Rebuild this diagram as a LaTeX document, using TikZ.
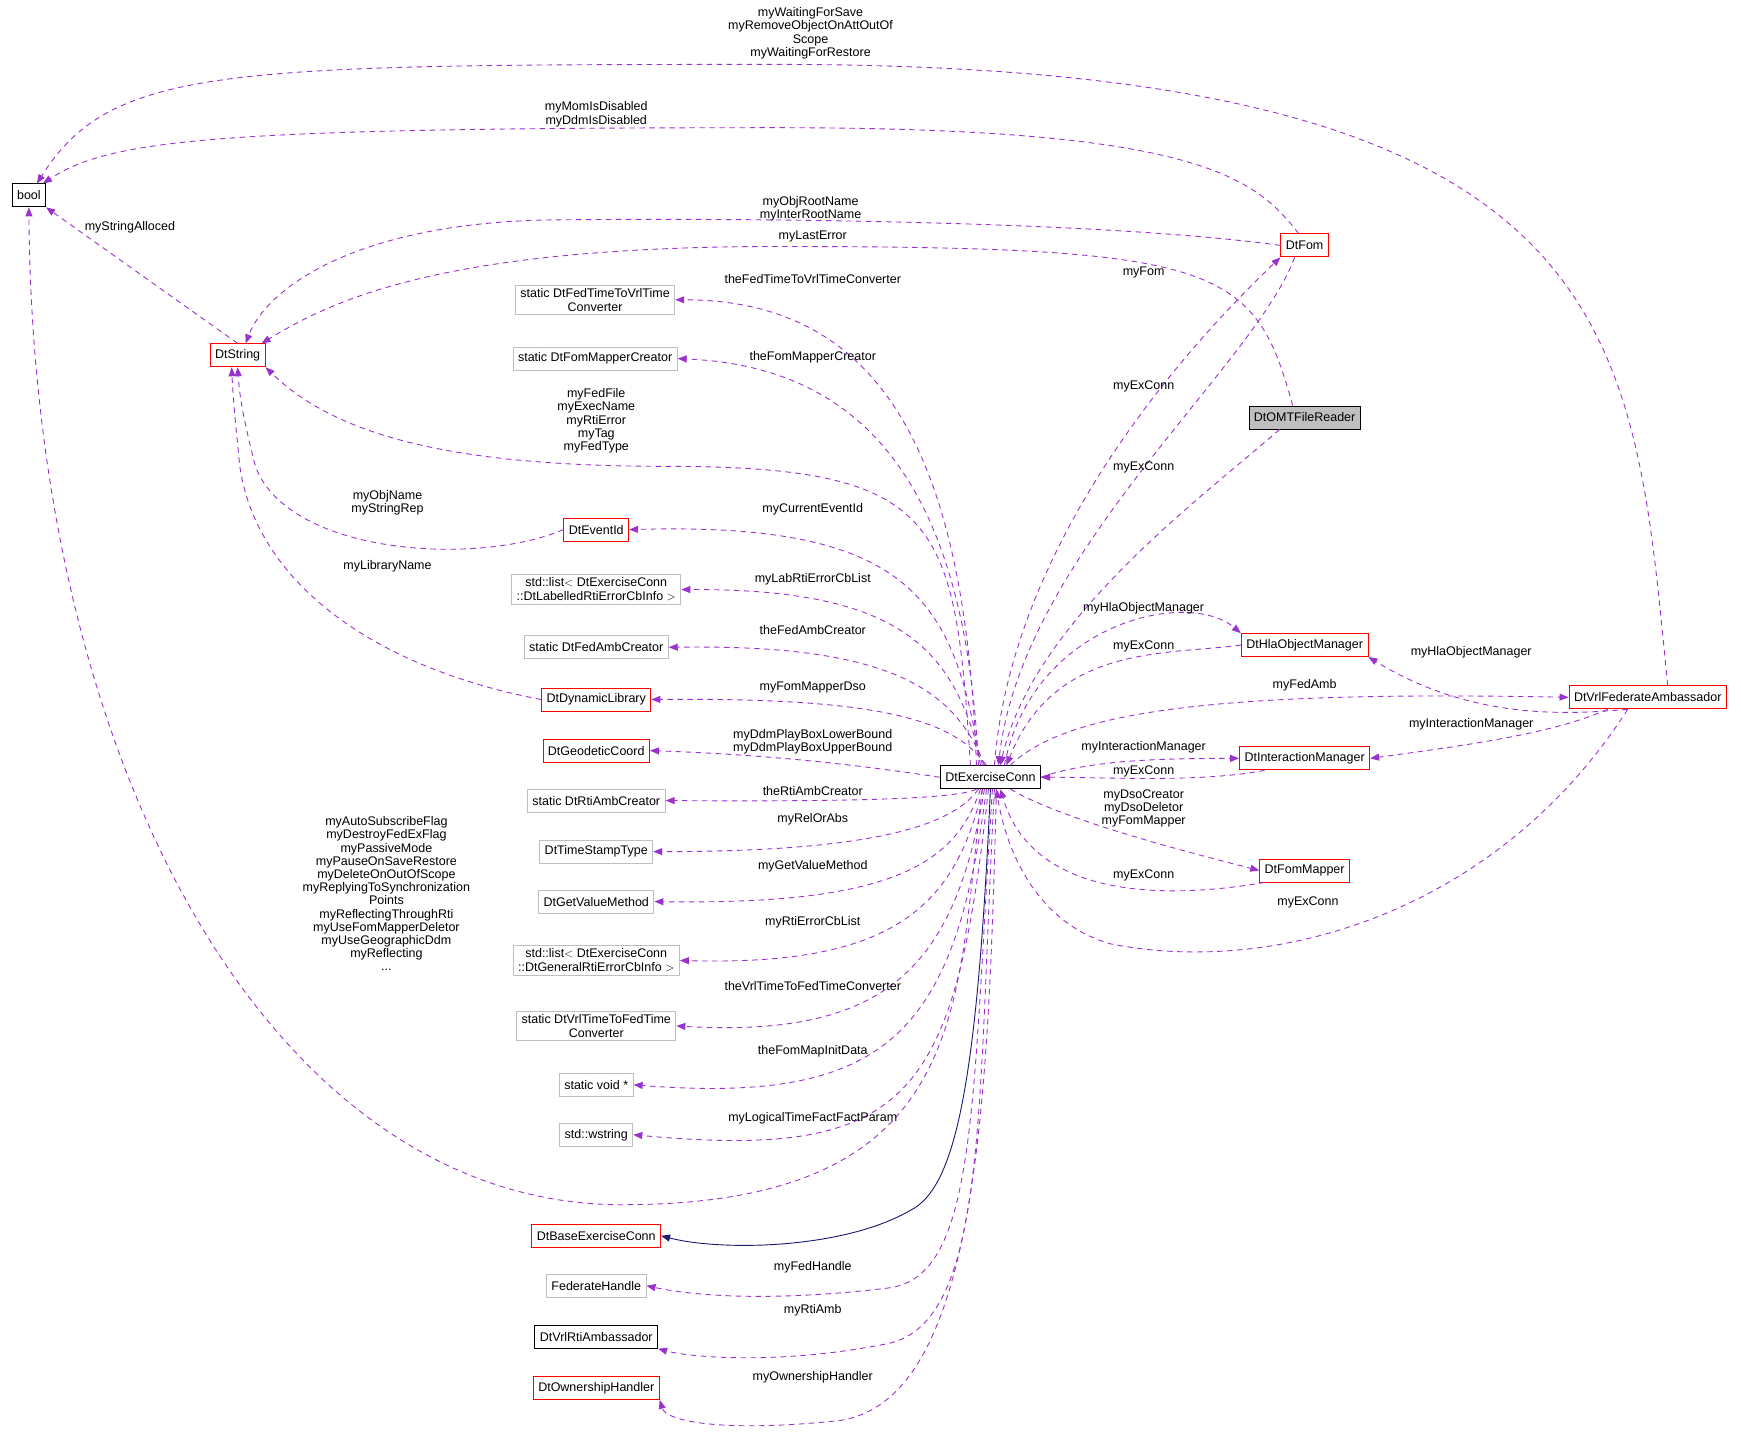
\documentclass[tikz,border=0pt]{standalone}
\usepackage{fontspec}
\setmainfont{Liberation Sans}
\usetikzlibrary{arrows.meta}
\definecolor{pur}{HTML}{9A32CD}
\definecolor{gr}{HTML}{BFBFBF}
\definecolor{rd}{HTML}{FF0000}
\definecolor{mb}{HTML}{191970}
\begin{document}
\begin{tikzpicture}[x=1.1105pt,y=-1.1105pt,
  every node/.style={font=\fontsize{12.5}{14}\selectfont},
  box/.style={draw,rectangle,inner xsep=5pt,inner ysep=3pt,minimum height=23pt,align=center,line width=0.9pt},
  bk/.style={box,draw=black},
  rb/.style={box,draw=rd},
  gb/.style={box,draw=gr},
  lb/.style={align=center,inner sep=0pt,font=\fontsize{12.5}{13.2}\selectfont},
  e/.style={draw=pur,line width=0.9pt,dash pattern=on 5.5pt off 4.5pt,-{Triangle[length=9pt,width=7pt,fill=pur]}},
  inh/.style={draw=mb,line width=0.9pt,-{Triangle[length=9pt,width=7pt,fill=mb]}}]
\useasboundingbox (0,0) rectangle (1568,1290);
% nodes
\node[bk] (bool) at (26,176) {bool};
\node[rb] (str) at (214,320) {DtString};
\node[gb] (ftv) at (536,270) {static DtFedTimeToVrlTime\\Converter};
\node[gb] (fmc) at (536,323) {static DtFomMapperCreator};
\node[rb] (eid) at (537,477) {DtEventId};
\node[gb] (lab) at (537,531) {std::list$<$ DtExerciseConn\\ ::DtLabelledRtiErrorCbInfo $>$};
\node[gb] (fac) at (537,583) {static DtFedAmbCreator};
\node[rb] (dyn) at (537,630) {DtDynamicLibrary};
\node[rb] (geo) at (537,676) {DtGeodeticCoord};
\node[gb] (rac) at (537,721) {static DtRtiAmbCreator};
\node[gb] (tst) at (537,767) {DtTimeStampType};
\node[gb] (gvm) at (537,812) {DtGetValueMethod};
\node[gb] (gen) at (537,865) {std::list$<$ DtExerciseConn\\ ::DtGeneralRtiErrorCbInfo $>$};
\node[gb] (vtf) at (537,924) {static DtVrlTimeToFedTime\\Converter};
\node[gb] (vd) at (537,977) {static void *};
\node[gb] (ws) at (537,1022) {std::wstring};
\node[rb] (bec) at (537,1113) {DtBaseExerciseConn};
\node[gb] (fh) at (537,1158) {FederateHandle};
\node[bk] (vra) at (537,1204) {DtVrlRtiAmbassador};
\node[rb] (own) at (537,1250) {DtOwnershipHandler};
\node[bk] (ec) at (892,700) {DtExerciseConn};
\node[rb] (fom) at (1175,221) {DtFom};
\node[bk,fill=gr] (omt) at (1175,376) {DtOMTFileReader};
\node[rb] (hom) at (1175,581) {DtHlaObjectManager};
\node[rb] (vfa) at (1484,628) {DtVrlFederateAmbassador};
\node[rb] (im) at (1175,683) {DtInteractionManager};
\node[rb] (fm) at (1175,784) {DtFomMapper};
% edges to bool
\draw[e] ([xshift=-8pt]ec.south) .. controls (860,900) and (880,1085) .. (560,1085) .. controls (250,1085) and (30,700) .. (bool.south);
\node[lb] (l1) at (348,805) {myAutoSubscribeFlag\\myDestroyFedExFlag\\myPassiveMode\\myPauseOnSaveRestore\\myDeleteOnOutOfScope\\myReplyingToSynchronization\\Points\\myReflectingThroughRti\\myUseFomMapperDeletor\\myUseGeographicDdm\\myReflecting\\...};
\draw[e] ([xshift=20pt]vfa.north) .. controls (1470,300) and (1470,58) .. (700,58) .. controls (200,58) and (100,60) .. ([xshift=8pt]bool.north);
\node[lb] (l2) at (730,30) {myWaitingForSave\\myRemoveObjectOnAttOutOf\\Scope\\myWaitingForRestore};
\draw[e] ([xshift=-6pt]fom.north) .. controls (1130,160) and (1080,115) .. (700,115) .. controls (200,115) and (100,125) .. ([xshift=14pt]bool.north);
\node[lb] (l3) at (537,103) {myMomIsDisabled\\myDdmIsDisabled};
\draw[e] (str.north) -- (bool.south east);
\node[lb] (l4) at (117,205) {myStringAlloced};
% to DtString
\draw[e] (fom.west) .. controls (1000,200) and (700,196) .. (500,198) .. controls (320,200) and (240,260) .. ([xshift=8pt]str.north);
\node[lb] (l5) at (730,188) {myObjRootName\\myInterRootName};
\draw[e] ([xshift=-12pt]omt.north) .. controls (1130,240) and (1100,222) .. (700,222) .. controls (400,222) and (300,270) .. ([xshift=24pt]str.north);
\node[lb] (l6) at (732,213) {myLastError};
\draw[e] ([xshift=-20pt]ec.north) .. controls (860,470) and (850,420) .. (600,420) .. controls (400,420) and (300,390) .. (str.south east);
\node[lb] (l7) at (537,379) {myFedFile\\myExecName\\myRtiError\\myTag\\myFedType};
\draw[e] (eid.west) .. controls (430,510) and (260,500) .. (230,420) .. controls (220,380) and (216,360) .. (str.south);
\node[lb] (l8) at (349,453) {myObjName\\myStringRep};
\draw[e] (dyn.west) .. controls (330,600) and (230,520) .. (216,420) .. controls (212,380) and (210,360) .. ([xshift=-6pt]str.south);
\node[lb] (l9) at (349,510) {myLibraryName};
% Fom/OMT
\draw[e] ([xshift=4pt]ec.north) .. controls (910,500) and (1050,330) .. (fom.south west);
\node[lb] (l10) at (1030,245) {myFom};
\draw[e] ([xshift=-10pt]fom.south) .. controls (1130,330) and (920,500) .. ([xshift=8pt]ec.north);
\node[lb] (l11) at (1030,348) {myExConn};
\draw[e] ([xshift=-25pt]omt.south) .. controls (1080,450) and (930,560) .. ([xshift=10pt]ec.north);
\node[lb] (l12) at (1030,421) {myExConn};
% left targets
\draw[e] ([xshift=-14pt]ec.north) .. controls (870,420) and (800,270) .. (ftv.east);
\node[lb] (a1) at (732,251) {theFedTimeToVrlTimeConverter};
\draw[e] ([xshift=-12pt]ec.north) .. controls (870,440) and (780,330) .. (fmc.east);
\node[lb] (a2) at (732,322) {theFomMapperCreator};
\draw[e] ([xshift=-10pt]ec.north) .. controls (860,540) and (820,470) .. (eid.east);
\node[lb] (a3) at (732,459) {myCurrentEventId};
\draw[e] ([xshift=-8pt]ec.north) .. controls (860,590) and (820,530) .. (lab.east);
\node[lb] (a4) at (732,522) {myLabRtiErrorCbList};
\draw[e] ([xshift=-6pt]ec.north) .. controls (860,620) and (800,580) .. (fac.east);
\node[lb] (a5) at (732,567) {theFedAmbCreator};
\draw[e] ([xshift=-4pt]ec.north) .. controls (860,650) and (800,628) .. (dyn.east);
\node[lb] (a6) at (732,619) {myFomMapperDso};
\draw[e] (ec.west) .. controls (780,690) and (700,680) .. (geo.east);
\node[lb] (a7) at (732,668) {myDdmPlayBoxLowerBound\\myDdmPlayBoxUpperBound};
\draw[e] ([xshift=-14pt]ec.south) .. controls (860,720) and (760,722) .. (rac.east);
\node[lb] (a8) at (732,712) {theRtiAmbCreator};
\draw[e] ([xshift=-12pt]ec.south) .. controls (860,740) and (800,767) .. (tst.east);
\node[lb] (a9) at (732,738) {myRelOrAbs};
\draw[e] ([xshift=-10pt]ec.south) .. controls (860,780) and (800,815) .. (gvm.east);
\node[lb] (a10) at (732,780) {myGetValueMethod};
\draw[e] ([xshift=-8pt]ec.south) .. controls (860,820) and (800,870) .. (gen.east);
\node[lb] (a11) at (732,831) {myRtiErrorCbList};
\draw[e] ([xshift=-6pt]ec.south) .. controls (860,870) and (800,935) .. (vtf.east);
\node[lb] (a12) at (732,888) {theVrlTimeToFedTimeConverter};
\draw[e] ([xshift=-4pt]ec.south) .. controls (860,930) and (800,995) .. (vd.east);
\node[lb] (a13) at (732,947) {theFomMapInitData};
\draw[e] ([xshift=-2pt]ec.south) .. controls (860,990) and (820,1045) .. (ws.east);
\node[lb] (a14) at (732,1007) {myLogicalTimeFactFactParam};
\draw[inh] ([xshift=0pt]ec.south) .. controls (880,980) and (860,1070) .. (820,1090) .. controls (760,1125) and (650,1127) .. (bec.east);
\draw[e] ([xshift=2pt]ec.south) .. controls (875,1000) and (880,1150) .. (800,1160) .. controls (700,1172) and (630,1168) .. (fh.east);
\node[lb] (a15) at (732,1141) {myFedHandle};
\draw[e] ([xshift=4pt]ec.south) .. controls (880,1000) and (890,1190) .. (800,1210) .. controls (700,1230) and (620,1222) .. (vra.south east);
\node[lb] (a16) at (732,1180) {myRtiAmb};
\draw[e] ([xshift=6pt]ec.south) .. controls (890,1000) and (880,1270) .. (750,1280) .. controls (650,1290) and (600,1280) .. (own.south east);
\node[lb] (a17) at (732,1240) {myOwnershipHandler};
% right side
\draw[e] ([xshift=14pt]ec.north) .. controls (930,560) and (1070,530) .. (hom.north west);
\node[lb] (r1) at (1030,548) {myHlaObjectManager};
\draw[e] (hom.west) .. controls (1050,590) and (950,580) .. ([xshift=16pt]ec.north);
\node[lb] (r2) at (1030,582) {myExConn};
\draw[e] ([xshift=20pt]ec.north) .. controls (960,640) and (1100,622) .. (vfa.west);
\node[lb] (r3) at (1175,617) {myFedAmb};
\draw[e] ([xshift=-20pt]vfa.south) .. controls (1400,645) and (1320,645) .. (hom.south east);
\node[lb] (r4) at (1325,587) {myHlaObjectManager};
\draw[e] ([xshift=-40pt]vfa.south) .. controls (1400,660) and (1330,670) .. (im.east);
\node[lb] (r4b) at (1325,652) {myInteractionManager};
\draw[e] (ec.east) .. controls (980,685) and (1040,683) .. (im.west);
\node[lb] (r5) at (1030,673) {myInteractionManager};
\draw[e] ([xshift=-40pt]im.south) .. controls (1080,705) and (1000,700) .. (ec.east);
\node[lb] (r6) at (1030,695) {myExConn};
\draw[e] ([xshift=20pt]ec.south) .. controls (960,740) and (1080,770) .. (fm.west);
\node[lb] (r7) at (1030,728) {myDsoCreator\\myDsoDeletor\\myFomMapper};
\draw[e] ([xshift=-40pt]fm.south) .. controls (1050,810) and (930,810) .. ([xshift=10pt]ec.south);
\node[lb] (r8) at (1030,788) {myExConn};
\draw[e] ([xshift=-20pt]vfa.south) .. controls (1350,820) and (1150,880) .. (1000,850) .. controls (930,830) and (905,760) .. ([xshift=6pt]ec.south);
\node[lb] (r9) at (1178,813) {myExConn};
\end{tikzpicture}
\end{document}
